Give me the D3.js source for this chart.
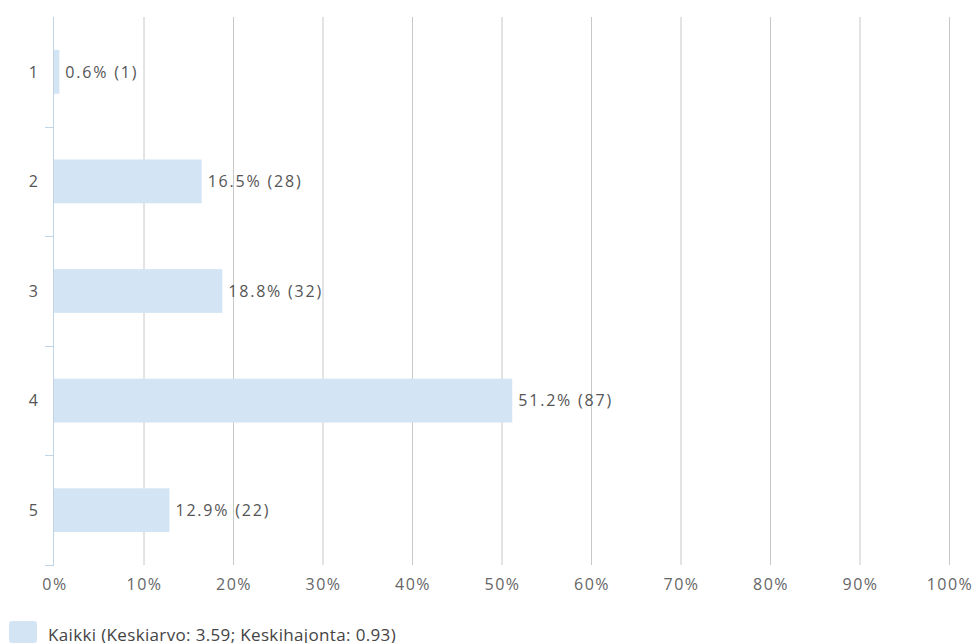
<!DOCTYPE html>
<html>
<head>
<meta charset="utf-8">
<script src="https://cdn.jsdelivr.net/npm/d3@7"></script>
<style>
  body { margin: 0; background: #fff; }
  svg { display: block; }
  text { font-family: "Open Sans", "DejaVu Sans", sans-serif; }
</style>
</head>
<body>
<svg id="chart" width="979" height="643"></svg>
<script>
// Answer options and their share of responses
const categories = ["1", "2", "3", "4", "5"];
const percents = [0.6, 16.5, 18.8, 51.2, 12.9];
const counts = [1, 28, 32, 87, 22];
const xTicks = [0, 10, 20, 30, 40, 50, 60, 70, 80, 90, 100];
const legendLabel = "Kaikki (Keskiarvo: 3.59; Keskihajonta: 0.93)";

const svg = d3.select("#chart");
const margin = { left: 54, right: 30, top: 17, bottom: 78 };
const W = 979, H = 643;

const x = d3.scaleLinear().domain([0, 100]).range([margin.left, 949]);
const y = d3.scaleBand().domain(categories).range([margin.top, H - margin.bottom]).paddingInner(0.6).paddingOuter(0.3);
const band = d3.scaleBand().domain(categories).range([margin.top, H - margin.bottom]);

// vertical gridlines
svg.append("g")
  .selectAll("line")
  .data(xTicks.filter(d => d > 0))
  .join("line")
  .attr("x1", d => x(d) + 0.5).attr("x2", d => x(d) + 0.5)
  .attr("y1", margin.top).attr("y2", H - margin.bottom)
  .attr("stroke", "#c8c8c8").attr("stroke-width", 1);

// bars
svg.append("g")
  .selectAll("rect")
  .data(categories)
  .join("rect")
  .attr("x", x(0))
  .attr("y", d => y(d))
  .attr("width", (d, i) => x(percents[i]) - x(0))
  .attr("height", y.bandwidth())
  .attr("fill", "#d3e5f5");

// value labels
svg.append("g")
  .selectAll("text")
  .data(categories)
  .join("text")
  .attr("x", (d, i) => x(percents[i]) + 6)
  .attr("y", d => y(d) + y.bandwidth() / 2)
  .attr("dy", "0.36em")
  .attr("font-size", 16)
  .attr("letter-spacing", 1.8)
  .attr("fill", "#555")
  .text((d, i) => `${percents[i]}% (${counts[i]})`);

// category axis
const gy = svg.append("g");
gy.append("line")
  .attr("x1", margin.left - 0.5).attr("x2", margin.left - 0.5)
  .attr("y1", margin.top).attr("y2", H - margin.bottom)
  .attr("stroke", "#c0d4e6");
gy.selectAll("line.tick")
  .data(d3.range(categories.length + 1).slice(1))
  .join("line")
  .attr("class", "tick")
  .attr("x1", margin.left - 9).attr("x2", margin.left)
  .attr("y1", i => Math.round(margin.top + i * band.step()) + 0.5)
  .attr("y2", i => Math.round(margin.top + i * band.step()) + 0.5)
  .attr("stroke", "#c0d4e6");
gy.selectAll("text")
  .data(categories)
  .join("text")
  .attr("x", 38)
  .attr("y", d => band(d) + band.bandwidth() / 2)
  .attr("dy", "0.36em")
  .attr("text-anchor", "end")
  .attr("font-size", 16)
  .attr("fill", "#555")
  .text(d => d);

// percentage axis labels
svg.append("g")
  .selectAll("text")
  .data(xTicks)
  .join("text")
  .attr("x", d => x(d) + 1)
  .attr("y", 590)
  .attr("text-anchor", "middle")
  .attr("font-size", 16)
  .attr("letter-spacing", 1.5)
  .attr("fill", "#666")
  .text(d => d + "%");

// legend
const lg = svg.append("g");
lg.append("rect")
  .attr("x", 9).attr("y", 621).attr("width", 28).attr("height", 22).attr("rx", 3)
  .attr("fill", "#d3e5f5");
lg.append("text")
  .attr("x", 48).attr("y", 641)
  .attr("font-size", 17)
  .attr("letter-spacing", 0.35)
  .attr("fill", "#444")
  .text(legendLabel);
</script>
</body>
</html>
